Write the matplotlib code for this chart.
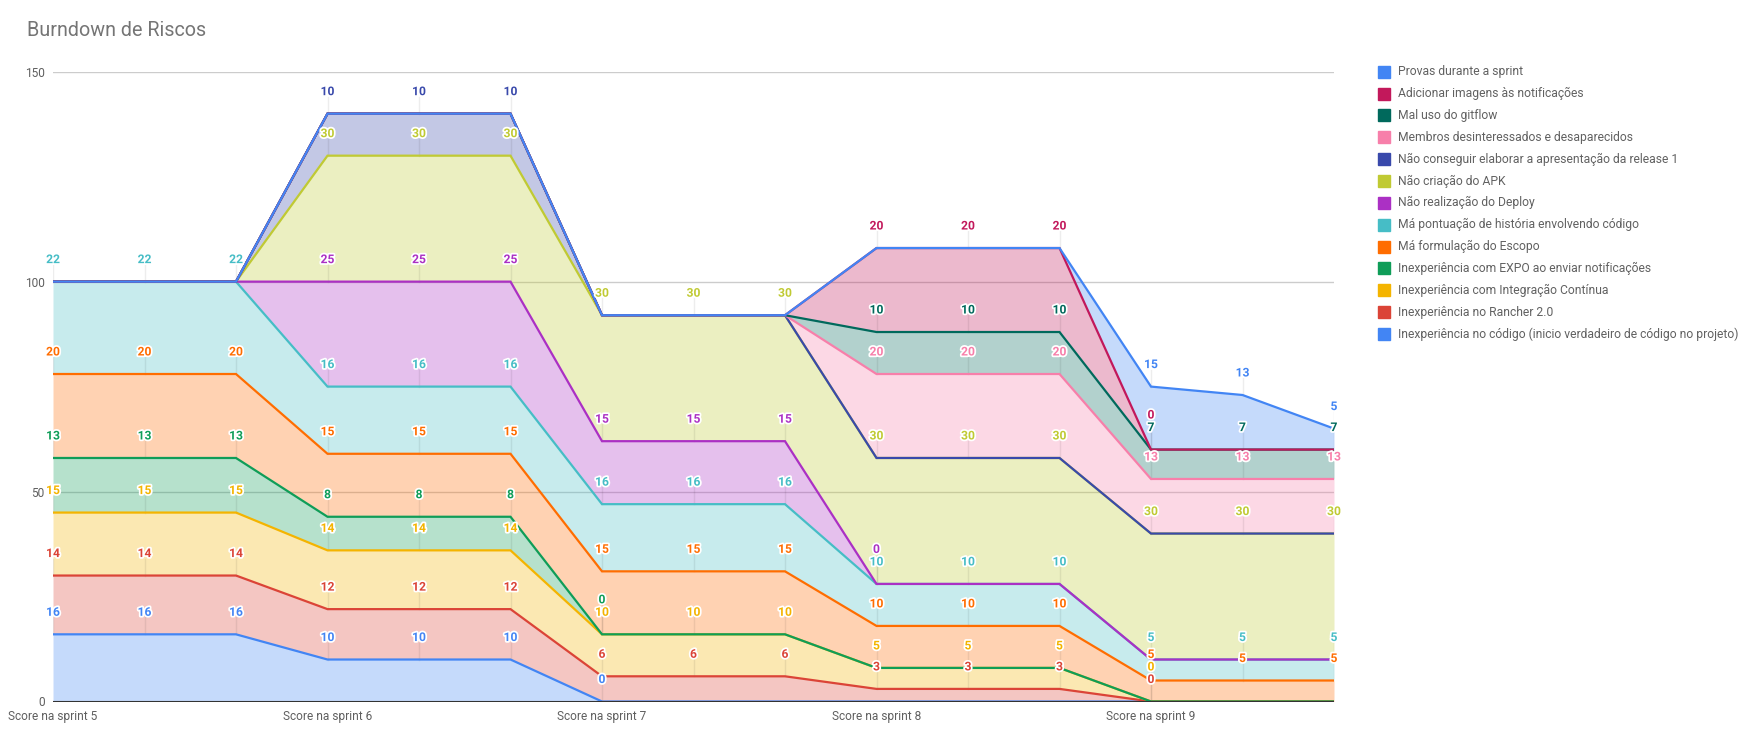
import numpy as np
import matplotlib
matplotlib.use("Agg")
import matplotlib.pyplot as plt
import matplotlib.patheffects as pe
from matplotlib.patches import Rectangle

plt.rcParams['font.family'] = ['Roboto', 'DejaVu Sans']

N = None
# pontos (3 por sprint)
sprints = ["Score na sprint 5", "Score na sprint 6", "Score na sprint 7",
           "Score na sprint 8", "Score na sprint 9"]

# series, da base para o topo da pilha
nomes = [
    "Inexperiência no código (inicio verdadeiro de código no projeto)",
    "Inexperiência no Rancher 2.0",
    "Inexperiência com Integração Contínua",
    "Inexperiência com EXPO ao enviar notificações",
    "Má formulação do Escopo",
    "Má pontuação de história envolvendo código",
    "Não realização do Deploy",
    "Não criação do APK",
    "Não conseguir elaborar a apresentação da release 1",
    "Membros desinteressados e desaparecidos",
    "Mal uso do gitflow",
    "Adicionar imagens às notificações",
    "Provas durante a sprint",
]
codigo =       [16, 16, 16, 10, 10, 10, 0, N, N, N, N, N, N, N, N]
rancher =      [14, 14, 14, 12, 12, 12, 6, 6, 6, 3, 3, 3, 0, N, N]
integracao =   [15, 15, 15, 14, 14, 14, 10, 10, 10, 5, 5, 5, 0, N, N]
expo =         [13, 13, 13, 8, 8, 8, 0, N, N, N, N, N, N, N, N]
escopo =       [20, 20, 20, 15, 15, 15, 15, 15, 15, 10, 10, 10, 5, 5, 5]
pontuacao =    [22, 22, 22, 16, 16, 16, 16, 16, 16, 10, 10, 10, 5, 5, 5]
deploy =       [N, N, N, 25, 25, 25, 15, 15, 15, 0, N, N, N, N, N]
apk =          [N, N, N, 30, 30, 30, 30, 30, 30, 30, 30, 30, 30, 30, 30]
apresentacao = [N, N, N, 10, 10, 10, N, N, N, N, N, N, N, N, N]
membros =      [N, N, N, N, N, N, N, N, N, 20, 20, 20, 13, 13, 13]
gitflow =      [N, N, N, N, N, N, N, N, N, 10, 10, 10, 7, 7, 7]
imagens =      [N, N, N, N, N, N, N, N, N, 20, 20, 20, 0, N, N]
provas =       [N, N, N, N, N, N, N, N, N, N, N, N, 15, 13, 5]

series = [codigo, rancher, integracao, expo, escopo, pontuacao, deploy,
          apk, apresentacao, membros, gitflow, imagens, provas]
cores = ['#4285F4', '#DB4437', '#F4B400', '#0F9D58', '#FF6D00', '#46BDC6',
         '#AB30C4', '#C0CA33', '#3949AB', '#F77FAA', '#00695C', '#C2185B',
         '#4285F4']

fig = plt.figure(figsize=(17.57, 7.35), dpi=100)
ax = fig.add_axes([53 / 1757, 1 - 701.5 / 735, (1334 - 53) / 1757, (701.5 - 71.7) / 735])

x = np.arange(len(codigo))
vals = [np.array([np.nan if v is None else v for v in s], dtype=float) for s in series]
base = np.zeros(len(x))
tops = []
for v, c in zip(vals, cores):
    top = base + np.nan_to_num(v)
    ax.fill_between(x, base, top, color=c, alpha=0.3, lw=0, zorder=1)
    tops.append(top)
    base = top
for top, c in zip(tops, cores):
    ax.plot(x, top, color=c, lw=1.6, zorder=2, solid_joinstyle='miter')

# rotulos dos pontos (empilhados quando se sobrepoem)
px = (701.5 - 71.7) / 150.0
off = 22 / px
gap = 12.5 / px
for i in range(len(x)):
    prev = -1e9
    for v, top, c in zip(vals, tops, cores):
        if np.isnan(v[i]):
            continue
        yl = max(top[i] + off, prev + gap)
        prev = yl
        ax.plot([i, i], [top[i], yl - 5 / px], color='black', alpha=0.07, lw=1, zorder=1.5)
        ax.text(i, yl, "%d" % v[i], color=c, fontsize=8.7, fontweight='bold',
                ha='center', va='center', zorder=4, clip_on=False,
                path_effects=[pe.withStroke(linewidth=2.5, foreground='white')])

ax.set_xlim(0, 14)
ax.set_ylim(0, 150)
ax.set_yticks([0, 50, 100, 150])
ax.set_xticks([0, 3, 6, 9, 12])
ax.set_xticklabels(sprints)
ax.tick_params(length=0, labelsize=8.6, colors='#5f5f5f')
ax.tick_params(axis='y', pad=6)
ax.tick_params(axis='x', pad=6)
for s in ax.spines.values():
    s.set_visible(False)
ax.grid(axis='y', color='#cccccc', lw=1, zorder=0)
ax.set_axisbelow(True)
ax.axhline(0, color='#333333', lw=1.5, zorder=3)

fig.text(27 / 1757, 1 - 30 / 735, "Burndown de Riscos", fontsize=14.2, color='#757575',
         ha='left', va='center')

# legenda
for k, (nome, c) in enumerate(reversed(list(zip(nomes, cores)))):
    yp = 71.7 + k * 21.86
    fig.patches.append(Rectangle((1378 / 1757, 1 - (yp + 6) / 735), 12 / 1757, 12 / 735,
                                 transform=fig.transFigure, color=c, figure=fig))
    fig.text(1398 / 1757, 1 - yp / 735, nome, fontsize=8.75, color='#616161',
             ha='left', va='center')

fig.savefig("out.png", dpi=100)
